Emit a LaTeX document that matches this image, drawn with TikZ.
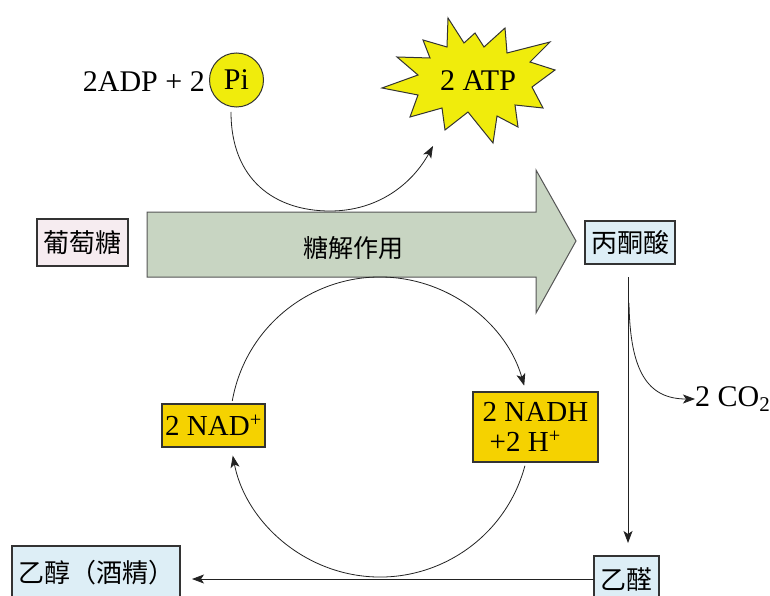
\documentclass[tikz,border=0pt]{standalone}
\usepackage{fontspec}
\setmainfont{Liberation Serif}
\newfontfamily\cjk{Noto Sans CJK TC}
\usetikzlibrary{arrows.meta,calc}
\definecolor{boxline}{HTML}{333333}
\definecolor{pinkfill}{HTML}{F6ECF0}
\definecolor{bluefill}{HTML}{DDEEF6}
\definecolor{arrowfill}{HTML}{C8D5C2}
\definecolor{arrowline}{HTML}{555555}
\definecolor{lemon}{HTML}{F0EC0C}
\definecolor{gold}{HTML}{F5D200}
\definecolor{linecol}{HTML}{222222}
\begin{document}
\begin{tikzpicture}[x=1pt,y=-1pt,
  lat/.style={font=\fontsize{30}{30}\selectfont, inner sep=0pt},
  cjkbox/.style={draw=boxline, line width=1.1pt, font=\cjk\fontsize{26}{27}\selectfont, inner sep=0pt},
  goldbox/.style={draw=boxline, line width=1.1pt, fill=gold, font=\fontsize{29}{30}\selectfont, inner sep=0pt},
  conn/.style={draw=linecol, line width=0.8pt},
  tipend/.style={-{Stealth[length=12pt,width=9pt,inset=3pt]}}
]
\useasboundingbox (0,0) rectangle (770,596);
\fill[white] (0,0) rectangle (770,596);

% big glycolysis arrow
\draw[fill=arrowfill, draw=arrowline, line width=1pt]
  (147,212) -- (536,212) -- (536,170) -- (576,241) -- (536,313) -- (536,277) -- (147,277) -- cycle;
\node[font=\cjk\fontsize{25}{26}\selectfont, inner sep=0pt] (gly) at (353,248) {糖解作用};

% boxes
\node[cjkbox, fill=pinkfill, minimum width=91pt, minimum height=47pt] (glu) at (82.5,242.5) {葡萄糖};
\node[cjkbox, fill=bluefill, minimum width=90pt, minimum height=43pt] (pyr) at (630,242.5) {丙酮酸};
\node[cjkbox, fill=bluefill, minimum width=168pt, minimum height=54pt] (eth) at (96,573) {乙醇（酒精）};
\node[cjkbox, fill=bluefill, minimum width=65pt, minimum height=48pt] (ald) at (626.5,580) {乙醛};

\node[goldbox, minimum width=103pt, minimum height=43pt] (nad) at (213.5,425.5) {2 NAD\textsuperscript{+}};
\node[goldbox, minimum width=125pt, minimum height=70pt, align=left] (nadh) at (535.5,427)
  {2 NADH\\\hspace{7pt}+2 H\textsuperscript{+}};

% ADP + Pi
\node[lat, anchor=east] (adp) at (205,81.5) {2ADP + 2};
\node[circle, draw=boxline, line width=1pt, fill=lemon, minimum size=54pt, inner sep=0pt,
      font=\fontsize{30}{30}\selectfont] (pi) at (236.5,80) {Pi};

% ATP starburst
\draw[fill=lemon, draw=boxline, line width=1pt]
  (448,18) -- (464,43) -- (475,33) -- (484,47) -- (505,28) -- (507,53) -- (550,42) -- (530,62)
  -- (555,70) -- (532,87) -- (543,108) -- (515,105) -- (518,127) -- (497,116) -- (493,143)
  -- (468,112) -- (445,130) -- (442,108) -- (410,117) -- (418,95) -- (382,88) -- (418,75)
  -- (397,57) -- (430,58) -- (423,40) -- (447,47) -- cycle;
\node[lat] (atp) at (478,81) {2 ATP};

% CO2
\node[lat, anchor=west] (co2) at (695,399) {2 CO\textsubscript{2}};

% coordinates
\coordinate (pistart) at (231,112);
\coordinate (atpend) at (433,146);
\coordinate (cc) at (380,427);
\coordinate (a1s) at ($(cc)+(-170:150)$);
\coordinate (a2s) at ($(cc)+(15:150)$);
\coordinate (pyrlow) at (628,277);
\coordinate (aldtop) at (628,543);
\coordinate (co2s) at (629,303);
\coordinate (aldleft) at (594,579);
\coordinate (ethright) at (192,579);

% connectors
\draw[conn, tipend] (pistart) .. controls (231,180) and (275,211) .. (330,211)
  .. controls (378,211) and (412,184) .. (atpend);
\draw[conn, tipend] (a1s) arc[start angle=-170, end angle=-16, radius=150];
\draw[conn, tipend] (a2s) arc[start angle=15, end angle=169, radius=150];
\draw[conn, tipend] (pyrlow) -- (aldtop);
\draw[conn, tipend] (co2s) .. controls (630,372) and (648,399) .. (co2.west);
\draw[conn, tipend] (aldleft) -- (ethright);
\end{tikzpicture}
\end{document}
